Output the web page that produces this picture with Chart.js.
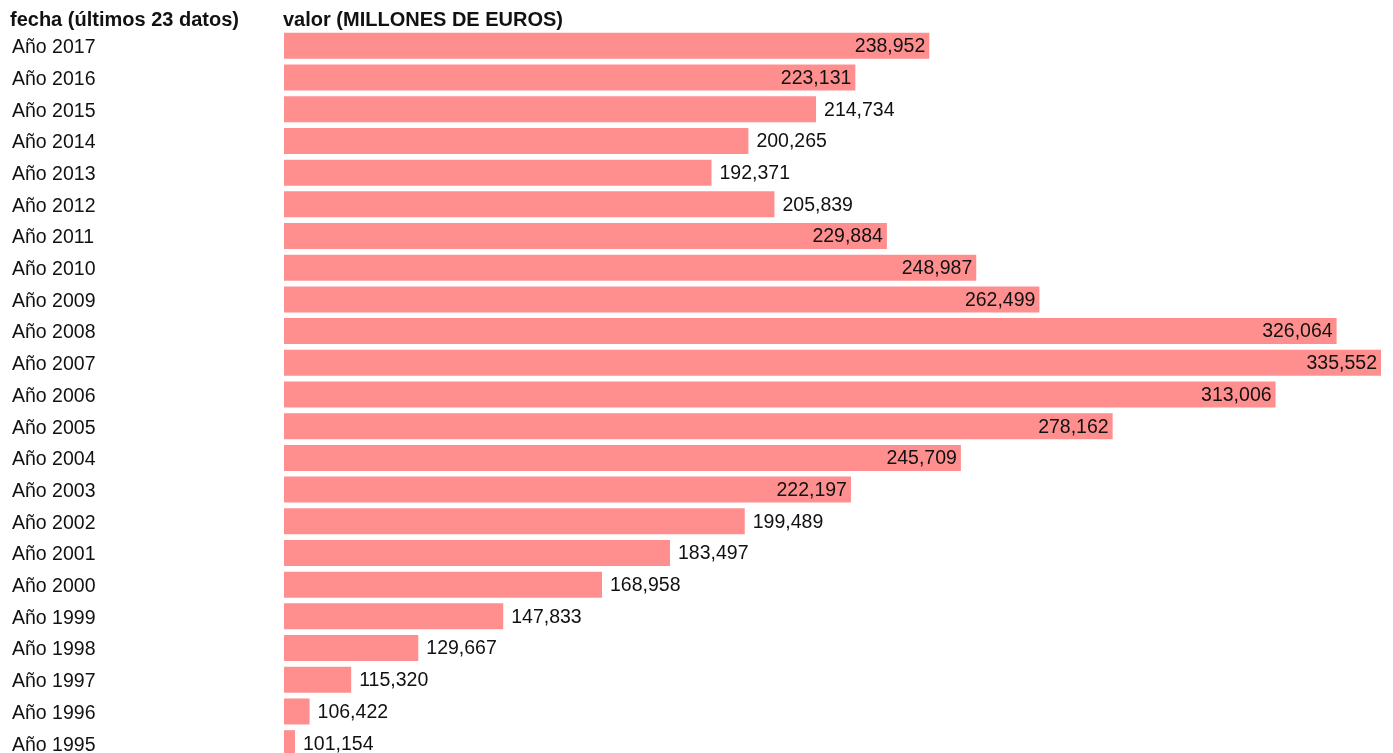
<!DOCTYPE html>
<html>
<head>
<meta charset="utf-8">
<script src="https://cdn.jsdelivr.net/npm/chart.js@4/dist/chart.umd.min.js"></script>
<style>
  html, body { margin: 0; padding: 0; background: #fff; overflow: hidden; }
  #wrap { position: relative; width: 1393px; height: 759px; }
</style>
</head>
<body>
<div id="wrap"><canvas id="myChart"></canvas></div>
<script>
// data
const years = ['Año 2017','Año 2016','Año 2015','Año 2014','Año 2013','Año 2012','Año 2011','Año 2010',
  'Año 2009','Año 2008','Año 2007','Año 2006','Año 2005','Año 2004','Año 2003','Año 2002',
  'Año 2001','Año 2000','Año 1999','Año 1998','Año 1997','Año 1996','Año 1995']
const values = [238952,223131,214734,200265,192371,205839,229884,248987,
  262499,326064,335552,313006,278162,245709,222197,199489,
  183497,168958,147833,129667,115320,106422,101154]
const headerLeft = 'fecha (últimos 23 datos)'
const headerRight = 'valor (MILLONES DE EUROS)'
const axisMin = 100950
const axisMax = 335552

const FONT = "'Liberation Sans', Arial, sans-serif"

// header texts above the two columns
const headers = {
  id: 'headers',
  afterDraw(chart) {
    const ctx = chart.ctx
    ctx.save()
    ctx.font = 'bold 20px ' + FONT
    ctx.fillStyle = '#111'
    ctx.textBaseline = 'alphabetic'
    ctx.textAlign = 'left'
    ctx.fillText(headerLeft, 10, 26)
    ctx.fillText(headerRight, chart.chartArea.left - 1, 26)
    ctx.restore()
  }
}

// value labels: inside the bar end for long bars, after it for short ones
const valueLabels = {
  id: 'valueLabels',
  afterDatasetsDraw(chart) {
    const ctx = chart.ctx
    const area = chart.chartArea
    const half = (area.right - area.left) / 2
    ctx.save()
    ctx.font = '19.5px ' + FONT
    ctx.fillStyle = '#111'
    ctx.textBaseline = 'middle'
    chart.getDatasetMeta(0).data.forEach((bar, i) => {
      const txt = values[i].toLocaleString('en-US')
      if (bar.x - area.left > half) {
        ctx.textAlign = 'right'
        ctx.fillText(txt, bar.x - 4, bar.y + 1)
      } else {
        ctx.textAlign = 'left'
        ctx.fillText(txt, bar.x + 8, bar.y + 1)
      }
    })
    ctx.restore()
  }
}

var ctx = document.getElementById('myChart').getContext('2d')
var chart = new Chart(ctx, {
  type: 'bar',
  data: {
    labels: years,
    datasets: [{
      data: values,
      base: axisMin,
      backgroundColor: '#ff8f8f',
      borderWidth: 0,
      barPercentage: 0.82,
      categoryPercentage: 1,
      minBarLength: 11
    }]
  },
  options: {
    indexAxis: 'y',
    responsive: true,
    maintainAspectRatio: false,
    animation: false,
    layout: { padding: { left: 12, right: 12, top: 30, bottom: 0 } },
    plugins: {
      legend: { display: false },
      tooltip: { enabled: false }
    },
    scales: {
      x: { display: false, min: axisMin, max: axisMax },
      y: {
        grid: { display: false },
        border: { display: false },
        ticks: {
          crossAlign: 'far',
          labelOffset: 2,
          color: '#111',
          font: { family: FONT, size: 19.5 }
        },
        afterFit(scale) {
          scale.width = 272
          scale.paddingTop = 0
          scale.paddingBottom = 0
        }
      }
    }
  },
  plugins: [headers, valueLabels]
})
</script>
</body>
</html>
